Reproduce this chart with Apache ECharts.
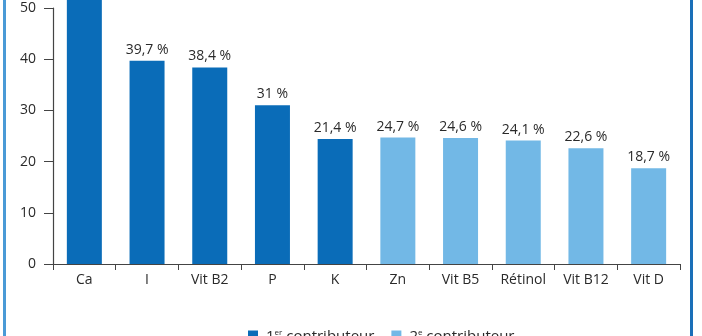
<!DOCTYPE html>
<html><head><meta charset="utf-8">
<script src="https://cdn.jsdelivr.net/npm/echarts@6/dist/echarts.min.js"></script>
<style>html,body{margin:0;padding:0;background:#fff}#c{width:702px;height:336px}</style>
</head><body><div id="c"></div>
<script>
const categories = ['Ca','I','Vit B2','P','K','Zn','Vit B5','Rétinol','Vit B12','Vit D'];
const firstContrib = [55, 39.7, 38.4, 31, 24.4, '-', '-', '-', '-', '-'];
const secondContrib = ['-', '-', '-', '-', '-', 24.7, 24.6, 24.1, 22.6, 18.7];
const valueLabels = ['55 %','39,7 %','38,4 %','31 %','21,4 %','24,7 %','24,6 %','24,1 %','22,6 %','18,7 %'];
const yTicks = [0, 10, 20, 30, 40, 50];

const FONT = 'Open Sans';
const TXT = '#2a2a2a';
const chart = echarts.init(document.getElementById('c'), null, {renderer:'canvas'});
const lbl = {
  show: true, position: 'top', distance: 4,
  fontFamily: FONT, fontSize: 14, color: TXT,
  formatter: p => valueLabels[p.dataIndex]
};
chart.setOption({
  animation: false,
  textStyle: {fontFamily: FONT},
  grid: {left: 53, right: 22, top: 8, bottom: 72, containLabel: false},
  graphic: [
    {type:'line', shape:{x1:4.5, y1:0, x2:4.5, y2:336}, style:{stroke:'#4a9ad6', lineWidth:3}, silent:true},
    {type:'line', shape:{x1:691.5, y1:0, x2:691.5, y2:336}, style:{stroke:'#1a6fb8', lineWidth:3}, silent:true}
  ],
  legend: {
    top: 324, left: 243,
    itemWidth: 10, itemHeight: 13, itemGap: 17,
    icon: 'rect',
    textStyle: {
      fontFamily: FONT, fontSize: 15, color: TXT, padding: [0,0,0,3],
      rich: {sup: {fontFamily: FONT, fontSize: 8, color: TXT, padding: [0,0,8,0]}}
    },
    formatter: n => n === 'first' ? '1{sup|er} contributeur' : '2{sup|e} contributeur',
    data: ['first', 'second']
  },
  xAxis: {
    type: 'category', data: categories,
    axisLine: {lineStyle: {color: '#444', width: 1.2}},
    axisTick: {show: true, length: 6, lineStyle: {color: '#444'}},
    axisLabel: {fontFamily: FONT, fontSize: 14, color: TXT, margin: 9}
  },
  yAxis: {
    type: 'value', min: yTicks[0], max: yTicks[yTicks.length-1], interval: 10,
    axisLine: {show: true, lineStyle: {color: '#444', width: 1.2}},
    axisTick: {show: true, length: 9, lineStyle: {color: '#444'}},
    splitLine: {show: false},
    axisLabel: {fontFamily: FONT, fontSize: 14, color: TXT, margin: 17}
  },
  series: [
    {name: 'first', type: 'bar', stack: 's', data: firstContrib, barWidth: 35, clip: false,
     itemStyle: {color: '#0a6cb8'}, label: lbl},
    {name: 'second', type: 'bar', stack: 's', data: secondContrib, barWidth: 35, clip: false,
     itemStyle: {color: '#72b8e6'}, label: lbl}
  ]
});
</script></body></html>
